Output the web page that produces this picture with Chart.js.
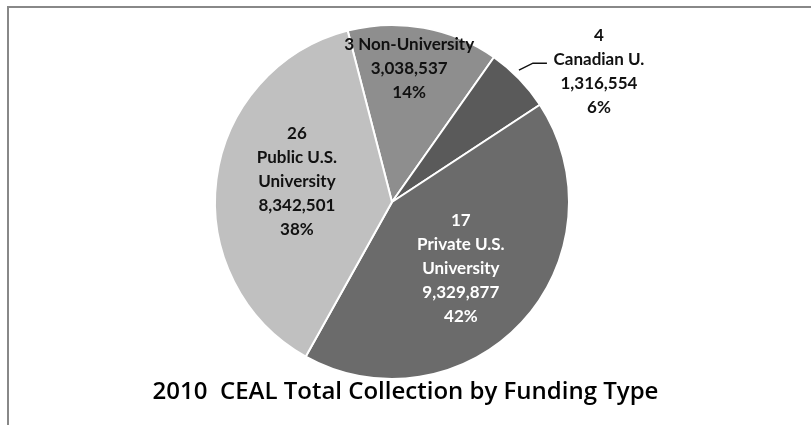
<!DOCTYPE html>
<html>
<head>
<meta charset="utf-8">
<script src="https://cdn.jsdelivr.net/npm/chart.js@4/dist/chart.umd.min.js"></script>
<style>
  body { margin: 0; background: #fff; overflow: hidden; }
  #wrap { position: relative; width: 811px; height: 425px; }
  #frame { position: absolute; left: 7px; top: 6px; width: 900px; height: 500px;
           border-left: 2px solid #888; border-top: 2px solid #888; }
  #pieChart { position: absolute; left: 0; top: 0; }
</style>
</head>
<body>
<div id="wrap">
  <div id="frame"></div>
  <canvas id="pieChart" width="811" height="425"></canvas>
</div>
<script>
// data
const chartTitle = '2010  CEAL Total Collection by Funding Type';
const fundingTypes = ['Non-University', 'Canadian U.', 'Private U.S. University', 'Public U.S. University'];
const libraryCounts = [3, 4, 17, 26];
const volumes = [3038537, 1316554, 9329877, 8342501];
const percentLabels = ['14%', '6%', '42%', '38%'];
const sliceColors = ['#8e8e8e', '#5a5a5a', '#6b6b6b', '#c0c0c0'];

const labelLines = [
    [libraryCounts[0] + ' Non-University', volumes[0].toLocaleString('en-US'), percentLabels[0]],
    [String(libraryCounts[1]), 'Canadian U.', volumes[1].toLocaleString('en-US'), percentLabels[1]],
    [String(libraryCounts[2]), 'Private U.S.', 'University', volumes[2].toLocaleString('en-US'), percentLabels[2]],
    [String(libraryCounts[3]), 'Public U.S.', 'University', volumes[3].toLocaleString('en-US'), percentLabels[3]]
];

// where each label sits: fraction of radius along the slice middle, small shifts
const labelPlace = [
    { r: 0.76, shift: -3 },
    { r: 0, shift: 0 },
    { r: 0.54, shift: 1 },
    { r: 0.55, shift: 5 }
];
const labelColors = ['#111', '#111', '#fff', '#111'];

const sliceLabels = {
    id: 'sliceLabels',
    afterDatasetsDraw(chart) {
        const ctx = chart.ctx;
        const arcs = chart.getDatasetMeta(0).data;
        ctx.save();
        ctx.font = 'bold 17px Lato, "Noto Sans", sans-serif';
        ctx.textAlign = 'center';
        ctx.textBaseline = 'middle';
        const lh = 24;
        arcs.forEach(function(arc, i) {
            const p = arc.getProps(['x', 'y', 'startAngle', 'endAngle', 'outerRadius'], true);
            const mid = (p.startAngle + p.endAngle) / 2;
            const lines = labelLines[i];
            let cx, cy;
            if (i === 1) {
                // outside label with a leader line
                const a = mid - 2 * Math.PI / 180;
                const sx = p.x + Math.cos(a) * (p.outerRadius + 6);
                const sy = p.y + Math.sin(a) * (p.outerRadius + 6);
                ctx.strokeStyle = '#111';
                ctx.lineWidth = 1.5;
                ctx.beginPath();
                ctx.moveTo(sx, sy);
                ctx.lineTo(sx + 14, sy - 7);
                ctx.lineTo(sx + 28, sy - 7);
                ctx.stroke();
                cx = sx + 80;
                cy = sy - 7 + 8;
            } else {
                const a = mid + labelPlace[i].shift * Math.PI / 180;
                cx = p.x + Math.cos(a) * p.outerRadius * labelPlace[i].r;
                cy = p.y + Math.sin(a) * p.outerRadius * labelPlace[i].r;
            }
            ctx.fillStyle = labelColors[i];
            const top = cy - (lines.length - 1) * lh / 2;
            lines.forEach(function(t, k) {
                ctx.fillText(t, cx, top + k * lh);
            });
        });

        // title under the pie
        ctx.fillStyle = '#000';
        ctx.font = '600 24px "Open Sans", sans-serif';
        ctx.fillText(chartTitle, chart.width / 2, 392);
        ctx.restore();
    }
};

const ctx = document.getElementById('pieChart').getContext('2d');
const pieChart = new Chart(ctx, {
    type: 'pie',
    data: {
        labels: fundingTypes,
        datasets: [{
            data: volumes,
            backgroundColor: sliceColors,
            borderColor: '#fff',
            borderWidth: 2
        }]
    },
    options: {
        responsive: false,
        animation: false,
        rotation: -14.5,
        layout: { padding: { top: 24, bottom: 45, left: 214, right: 241 } },
        plugins: {
            legend: { display: false },
            tooltip: { enabled: false },
            title: { display: false }
        }
    },
    plugins: [sliceLabels]
});
</script>
</body>
</html>
